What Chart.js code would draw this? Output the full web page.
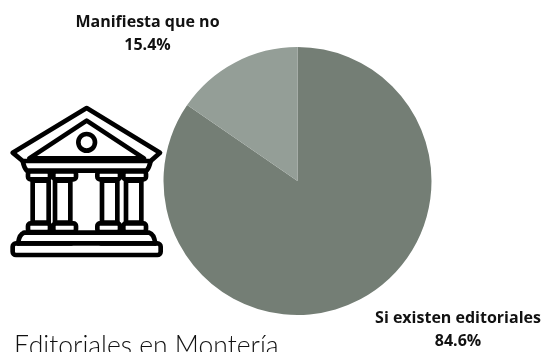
<!DOCTYPE html>
<html lang="es">
<head>
<meta charset="utf-8">
<title>Editoriales en Montería</title>
<script src="https://cdn.jsdelivr.net/npm/chart.js@4"></script>
<style>
  html, body { margin: 0; padding: 0; background: #fff; overflow: hidden; }
  #wrap { position: relative; width: 543px; height: 352px; overflow: hidden; }
  canvas { position: absolute; left: 0; top: 0; }
  #icon { position: absolute; left: 0; top: 90px; width: 180px; height: 180px; }
</style>
</head>
<body>
<div id="wrap">
  <canvas id="chart" width="543" height="352"></canvas>
  <!-- Museum / institution pictogram -->
  <svg id="icon" viewBox="0 0 540 540" fill="none" stroke="#000" stroke-width="14" stroke-linejoin="round" stroke-linecap="round">
    <path d="M260 54 L480 188 L452 213 L68 213 L38 188 Z"/>
    <path d="M260 92 L432 205 L88 205 Z"/>
    <circle cx="260" cy="157" r="25"/>
    <path d="M68 213 Q72 232 80 242 L440 242 Q448 232 452 213"/>
    <rect x="84" y="244" width="66" height="24" rx="8"/>
    <rect x="160" y="244" width="68" height="24" rx="8"/>
    <rect x="292" y="244" width="68" height="24" rx="8"/>
    <rect x="370" y="244" width="68" height="24" rx="8"/>
    <rect x="98" y="272" width="48" height="126"/>
    <rect x="165" y="272" width="46" height="126"/>
    <rect x="306" y="272" width="46" height="126"/>
    <rect x="378" y="272" width="46" height="126"/>
    <rect x="84" y="400" width="66" height="26" rx="8"/>
    <rect x="160" y="400" width="68" height="26" rx="8"/>
    <rect x="292" y="400" width="68" height="26" rx="8"/>
    <rect x="370" y="400" width="68" height="26" rx="8"/>
    <path d="M72 428 L448 428 Q462 432 466 460 M72 428 Q58 432 54 460"/>
    <rect x="38" y="460" width="444" height="35" rx="10"/>
    <path d="M54 460 L215 460 M302 460 L466 460"/>
  </svg>
</div>
<script>
const categories = ['Si existen editoriales', 'Manifiesta que no'];
const shares = [84.6, 15.4];
const sliceColors = ['#747e75', '#949e97'];
const chartTitle = 'Editoriales en Montería';

// Slice captions and the title sit outside the pie, so they are painted after the arcs.
const captionAnchors = [{ x: 458, y: 318 }, { x: 147.5, y: 22 }];
const captions = {
  id: 'captions',
  afterDatasetsDraw(chart) {
    const { ctx } = chart;
    ctx.save();
    ctx.textAlign = 'center';
    ctx.textBaseline = 'middle';
    ctx.fillStyle = '#111';
    ctx.font = 'bold 16px "Open Sans"';
    categories.forEach((name, i) => {
      const a = captionAnchors[i];
      ctx.fillText(name, a.x, a.y);
      ctx.fillText(shares[i].toFixed(1) + '%', a.x, a.y + 23);
    });
    ctx.textAlign = 'left';
    ctx.textBaseline = 'alphabetic';
    ctx.fillStyle = '#111';
    ctx.font = '300 26.5px Lato';
    ctx.fillText(chartTitle, 14, 354.5);
    ctx.restore();
  }
};

new Chart(document.getElementById('chart'), {
  type: 'pie',
  data: {
    labels: categories,
    datasets: [{ data: shares, backgroundColor: sliceColors, borderWidth: 0 }]
  },
  options: {
    responsive: false,
    animation: false,
    layout: { padding: { left: 163, right: 111, top: 47, bottom: 37 } },
    plugins: { legend: { display: false }, tooltip: { enabled: false }, title: { display: false } }
  },
  plugins: [captions]
});
</script>
</body>
</html>
